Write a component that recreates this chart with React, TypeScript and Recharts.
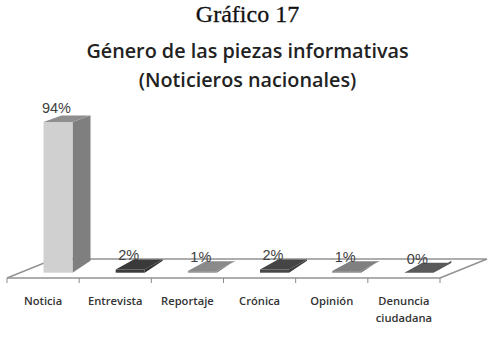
import React from "react";
import { Bar, BarChart, LabelList, XAxis, YAxis, usePlotArea } from "recharts";

const categories = ["Noticia", "Entrevista", "Reportaje", "Crónica", "Opinión", "Denuncia ciudadana"];
const shares = [94, 2, 1, 2, 1, 0];

// front, top and side tone of each bar
const fronts = ["#d0d0d0", "#3c3c3c", "#8f8f8f", "#484848", "#868686", "#5e5e5e"];
const tops = ["#8e8e8e", "#3a3a3a", "#8a8a8a", "#454545", "#808080", "#5a5a5a"];
const sides = ["#7f7f7f", "#303030", "#7c7c7c", "#3a3a3a", "#747474", "#505050"];

const data = categories.map((name, i) => ({ name, share: shares[i] }));

const FLOOR_LIFT = 5.3;
const DEPTH_X = 18;
const depthY = (h: number) => 10 - (3.5 * h) / 150;

const Bar3D = (props: any) => {
  const { x, y, width, height, index } = props;
  const left = x + width / 2;
  const right = left + width;
  const top = y - FLOOR_LIFT;
  const bottom = top + height;
  const d = depthY(height);
  return (
    <g>
      <polygon
        points={`${right},${top} ${right + DEPTH_X},${top - d} ${right + DEPTH_X},${bottom - 12} ${right},${bottom}`}
        fill={sides[index]}
      />
      <polygon
        points={`${left},${top} ${left + DEPTH_X},${top - d} ${right + DEPTH_X},${top - d} ${right},${top}`}
        fill={tops[index]}
      />
      <rect x={left} y={top} width={width} height={height} fill={fronts[index]} />
    </g>
  );
};

const Floor = () => {
  const plot = usePlotArea();
  if (!plot) return null;
  const { x, y, width, height } = plot;
  const base = y + height;
  const back = base - 19;
  const step = width / categories.length;
  return (
    <g>
      <polyline
        points={`${x},${base} ${x + 47},${back} ${x + width + 47},${back} ${x + width},${base}`}
        fill="none"
        stroke="#929292"
        strokeWidth={1.4}
      />
      {[...categories, ""].map((_, i) => (
        <line key={i} x1={x + step * i} x2={x + step * i} y1={base} y2={base + 5} stroke="#8a8a8a" />
      ))}
    </g>
  );
};

const CategoryTick = ({ x, y, payload }: any) => (
  <text textAnchor="middle" fontFamily="'Open Sans'" fontWeight={600} fontSize={11.2} fill="#333">
    {String(payload.value)
      .split(" ")
      .map((word, i) => (
        <tspan key={word} x={x} y={y + 19 + i * 17}>
          {word}
        </tspan>
      ))}
  </text>
);

const ShareLabel = ({ x, y, width, value }: any) => (
  <text
    x={x + width / 2 + 13}
    y={y - FLOOR_LIFT - 9}
    textAnchor="middle"
    fontFamily="'Liberation Sans'"
    fontSize={14.5}
    fill="#404040"
  >
    {value}%
  </text>
);

export default function App() {
  return (
    <div style={{ position: "absolute", left: 0, top: 0, width: 501, height: 339, background: "#fff" }}>
      <div
        style={{
          position: "absolute",
          left: 0,
          top: 1,
          width: 495,
          textAlign: "center",
          fontFamily: "'Liberation Serif'",
          fontSize: 24,
          color: "#111",
          WebkitTextStroke: "0.3px #111",
        }}
      >
        Gráfico 17
      </div>
      <div
        style={{
          position: "absolute",
          left: 0,
          top: 36,
          width: 495,
          textAlign: "center",
          fontFamily: "'Open Sans'",
          fontWeight: 600,
          fontSize: 19.8,
          lineHeight: "29px",
          color: "#222",
        }}
      >
        Género de las piezas informativas
        <br />
        (Noticieros nacionales)
      </div>
      <BarChart
        width={501}
        height={339}
        data={data}
        margin={{ top: 117.7, left: 7, right: 61, bottom: 0 }}
      >
        <XAxis
          dataKey="name"
          interval={0}
          tickLine={false}
          axisLine={{ stroke: "#929292", strokeWidth: 1.4 }}
          tick={<CategoryTick />}
          height={61}
        />
        <YAxis hide domain={[0, 100]} />
        <Floor />
        <Bar dataKey="share" barSize={29} shape={<Bar3D />} isAnimationActive={false}>
          <LabelList dataKey="share" content={<ShareLabel />} />
        </Bar>
      </BarChart>
    </div>
  );
}
